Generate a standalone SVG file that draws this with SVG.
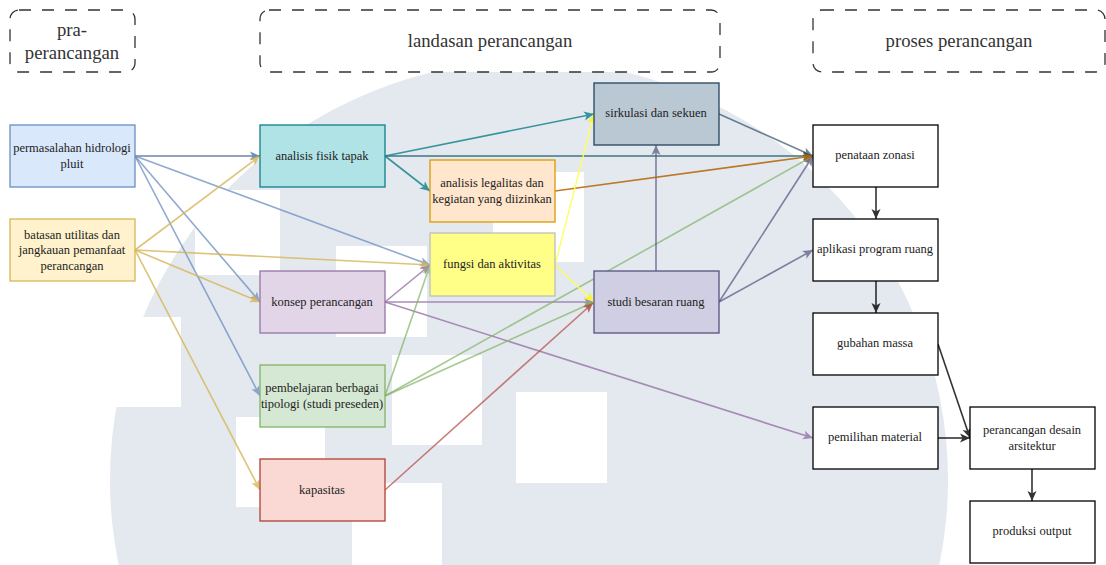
<svg xmlns="http://www.w3.org/2000/svg" width="1106" height="565" viewBox="0 0 1106 565">
<style>
text{font-family:"Liberation Serif","Times New Roman",serif;font-size:12.5px;fill:#222;text-anchor:middle}
.h text{font-size:18.7px;fill:#333}
.h rect{fill:#fff;stroke:#333;stroke-width:1.3;stroke-dasharray:12 11}
.n rect{stroke-width:1.3}
.c line{fill:none;stroke-width:1.6}
.w{fill:#fff}
.bl{stroke:#6c8ebf;opacity:.75}.ye{stroke:#d6b656;opacity:.8}.gr{stroke:#82b366;opacity:.7}.pu{stroke:#9673a6;opacity:.8}.re{stroke:#b85450;opacity:.75}.te{stroke:#0e8088;opacity:.8}.or{stroke:#b46504;opacity:.85}.sl{stroke:#23445d;opacity:.65}.dp{stroke:#56517e;opacity:.7}.by{stroke:#ffff55;stroke-width:1.3!important}.k{stroke:#000;opacity:.8}.tz{stroke:#3f7580}.hz{stroke:#6f83a8}
</style>
<defs>
<marker id="a-bl" markerUnits="userSpaceOnUse" markerWidth="11" markerHeight="10" refX="10" refY="5" orient="auto"><path d="M0 .5L10 5L0 9.5L2.5 5Z" fill="#6c8ebf"/></marker>
<marker id="a-ye" markerUnits="userSpaceOnUse" markerWidth="11" markerHeight="10" refX="10" refY="5" orient="auto"><path d="M0 .5L10 5L0 9.5L2.5 5Z" fill="#d6b656"/></marker>
<marker id="a-gr" markerUnits="userSpaceOnUse" markerWidth="11" markerHeight="10" refX="10" refY="5" orient="auto"><path d="M0 .5L10 5L0 9.5L2.5 5Z" fill="#82b366"/></marker>
<marker id="a-pu" markerUnits="userSpaceOnUse" markerWidth="11" markerHeight="10" refX="10" refY="5" orient="auto"><path d="M0 .5L10 5L0 9.5L2.5 5Z" fill="#9673a6"/></marker>
<marker id="a-re" markerUnits="userSpaceOnUse" markerWidth="11" markerHeight="10" refX="10" refY="5" orient="auto"><path d="M0 .5L10 5L0 9.5L2.5 5Z" fill="#ae4132"/></marker>
<marker id="a-te" markerUnits="userSpaceOnUse" markerWidth="11" markerHeight="10" refX="10" refY="5" orient="auto"><path d="M0 .5L10 5L0 9.5L2.5 5Z" fill="#0e8088"/></marker>
<marker id="a-or" markerUnits="userSpaceOnUse" markerWidth="11" markerHeight="10" refX="10" refY="5" orient="auto"><path d="M0 .5L10 5L0 9.5L2.5 5Z" fill="#b46504"/></marker>
<marker id="a-sl" markerUnits="userSpaceOnUse" markerWidth="11" markerHeight="10" refX="10" refY="5" orient="auto"><path d="M0 .5L10 5L0 9.5L2.5 5Z" fill="#23445d"/></marker>
<marker id="a-dp" markerUnits="userSpaceOnUse" markerWidth="11" markerHeight="10" refX="10" refY="5" orient="auto"><path d="M0 .5L10 5L0 9.5L2.5 5Z" fill="#56517e"/></marker>
<marker id="a-by" markerUnits="userSpaceOnUse" markerWidth="11" markerHeight="10" refX="10" refY="5" orient="auto"><path d="M0 .5L10 5L0 9.5L2.5 5Z" fill="#f5f53a"/></marker>
<marker id="a-k" markerUnits="userSpaceOnUse" markerWidth="11" markerHeight="10" refX="10" refY="5" orient="auto"><path d="M0 .5L10 5L0 9.5L2.5 5Z" fill="#000"/></marker>
</defs>
<g id="watermark">
<circle cx="529" cy="480" r="419" fill="#e4e9f0"/>
<rect class="w" x="195" y="190" width="85" height="85"/>
<rect class="w" x="336" y="246" width="91" height="91"/>
<rect class="w" x="493" y="172" width="91" height="90"/>
<rect class="w" x="90" y="317" width="91" height="90"/>
<rect class="w" x="236" y="417" width="89" height="90"/>
<rect class="w" x="392" y="355" width="90" height="90"/>
<rect class="w" x="516" y="392" width="91" height="91"/>
<rect class="w" x="352" y="483" width="90" height="82"/>
</g>
<g id="connectors" class="c">
<line class="hz" x1="135" y1="156" x2="260" y2="156" marker-end="url(#a-bl)"/>
<line class="bl" x1="135" y1="156" x2="430" y2="265" marker-end="url(#a-bl)"/>
<line class="bl" x1="135" y1="156" x2="260" y2="302" marker-end="url(#a-bl)"/>
<line class="bl" x1="135" y1="156" x2="260" y2="396" marker-end="url(#a-bl)"/>
<line class="ye" x1="135" y1="250" x2="260" y2="156" marker-end="url(#a-ye)"/>
<line class="ye" x1="135" y1="250" x2="430" y2="265" marker-end="url(#a-ye)"/>
<line class="ye" x1="135" y1="250" x2="260" y2="302" marker-end="url(#a-ye)"/>
<line class="ye" x1="135" y1="250" x2="260" y2="490" marker-end="url(#a-ye)"/>
<line class="te" x1="385" y1="156" x2="594" y2="114" marker-end="url(#a-te)"/>
<line class="te" x1="385" y1="156" x2="430" y2="191" marker-end="url(#a-te)"/>
<line class="tz" x1="385" y1="156" x2="813" y2="156" marker-end="url(#a-sl)"/>
<line class="pu" x1="385" y1="302" x2="430" y2="265" marker-end="url(#a-pu)"/>
<line class="pu" x1="385" y1="302" x2="594" y2="302" marker-end="url(#a-pu)"/>
<line class="pu" x1="385" y1="302" x2="813" y2="438" marker-end="url(#a-pu)"/>
<line class="gr" x1="385" y1="396" x2="430" y2="265" marker-end="url(#a-gr)"/>
<line class="gr" x1="385" y1="396" x2="594" y2="302" marker-end="url(#a-gr)"/>
<line class="gr" x1="385" y1="396" x2="813" y2="156" marker-end="url(#a-gr)"/>
<line class="re" x1="385" y1="490" x2="593" y2="303" marker-end="url(#a-re)"/>
<line class="dp" x1="656" y1="271" x2="656" y2="145" marker-end="url(#a-dp)"/>
<line class="dp" x1="719" y1="302" x2="813" y2="156" marker-end="url(#a-dp)"/>
<line class="dp" x1="719" y1="302" x2="813" y2="250" marker-end="url(#a-dp)"/>
<line class="sl" x1="719" y1="114" x2="813" y2="156" marker-end="url(#a-sl)"/>
<line class="or" x1="555" y1="191" x2="813" y2="156" marker-end="url(#a-or)"/>
<line class="by" x1="555" y1="265" x2="594" y2="114" marker-end="url(#a-by)"/>
<line class="by" x1="555" y1="265" x2="594" y2="302" marker-end="url(#a-by)"/>
<line class="k" x1="876" y1="187" x2="876" y2="219" marker-end="url(#a-k)"/>
<line class="k" x1="876" y1="281" x2="876" y2="313" marker-end="url(#a-k)"/>
<line class="k" x1="938" y1="344" x2="970" y2="438" marker-end="url(#a-k)"/>
<line class="k" x1="938" y1="438" x2="970" y2="438" marker-end="url(#a-k)"/>
<line class="k" x1="1032" y1="469" x2="1032" y2="501" marker-end="url(#a-k)"/>
</g>
<g id="h-pra" class="h"><rect x="10" y="10" width="125" height="62" rx="9"/><text x="72" y="36">pra-</text><text x="72" y="59">perancangan</text></g>
<g id="h-landasan" class="h"><rect x="260" y="10" width="460" height="62" rx="9"/><text x="490" y="47">landasan perancangan</text></g>
<g id="h-proses" class="h"><rect x="813" y="10" width="292" height="62" rx="9"/><text x="959" y="47">proses perancangan</text></g>
<g id="n-permasalahan" class="n"><rect x="10" y="125" width="125" height="62" fill="#dae8fc" stroke="#6c8ebf"/><text x="72" y="152">permasalahan hidrologi</text><text x="72" y="168">pluit</text></g>
<g id="n-batasan" class="n"><rect x="10" y="219" width="125" height="62" fill="#fff2cc" stroke="#d6b656"/><text x="72" y="239">batasan utilitas dan</text><text x="72" y="254">jangkauan pemanfaat</text><text x="72" y="270">perancangan</text></g>
<g id="n-fisik" class="n"><rect x="260" y="125" width="125" height="62" fill="#b0e3e6" stroke="#0e8088"/><text x="322" y="160">analisis fisik tapak</text></g>
<g id="n-konsep" class="n"><rect x="260" y="271" width="125" height="62" fill="#e1d5e7" stroke="#9673a6"/><text x="322" y="306">konsep perancangan</text></g>
<g id="n-pembelajaran" class="n"><rect x="260" y="365" width="125" height="62" fill="#d5e8d4" stroke="#82b366"/><text x="322" y="392">pembelajaran berbagai</text><text x="322" y="408">tipologi (studi preseden)</text></g>
<g id="n-kapasitas" class="n"><rect x="260" y="459" width="125" height="62" fill="#fad9d5" stroke="#ae4132"/><text x="322" y="494">kapasitas</text></g>
<g id="n-legalitas" class="n"><rect x="430" y="160" width="125" height="62" fill="#ffe6cc" stroke="#d79b00"/><text x="492" y="187">analisis legalitas dan</text><text x="492" y="203">kegiatan yang diizinkan</text></g>
<g id="n-fungsi" class="n"><rect x="430" y="233" width="125" height="63" fill="#ffff88" stroke="#bdbdbd"/><text x="492" y="268">fungsi dan aktivitas</text></g>
<g id="n-sirkulasi" class="n"><rect x="594" y="83" width="125" height="62" fill="#bac8d3" stroke="#23445d"/><text x="656" y="117">sirkulasi dan sekuen</text></g>
<g id="n-studi" class="n"><rect x="594" y="271" width="125" height="62" fill="#d0cee2" stroke="#56517e"/><text x="656" y="306">studi besaran ruang</text></g>
<g id="n-penataan" class="n"><rect x="813" y="125" width="125" height="62" fill="#fff" stroke="#000"/><text x="875" y="159">penataan zonasi</text></g>
<g id="n-aplikasi" class="n"><rect x="813" y="219" width="125" height="62" fill="#fff" stroke="#000"/><text x="875" y="253">aplikasi program ruang</text></g>
<g id="n-gubahan" class="n"><rect x="813" y="313" width="125" height="62" fill="#fff" stroke="#000"/><text x="875" y="347">gubahan massa</text></g>
<g id="n-pemilihan" class="n"><rect x="813" y="407" width="125" height="62" fill="#fff" stroke="#000"/><text x="875" y="441">pemilihan material</text></g>
<g id="n-perancangan" class="n"><rect x="970" y="407" width="125" height="62" fill="#fff" stroke="#000"/><text x="1032" y="434">perancangan desain</text><text x="1032" y="450">arsitektur</text></g>
<g id="n-produksi" class="n"><rect x="970" y="501" width="125" height="62" fill="#fff" stroke="#000"/><text x="1032" y="535">produksi output</text></g>
</svg>
